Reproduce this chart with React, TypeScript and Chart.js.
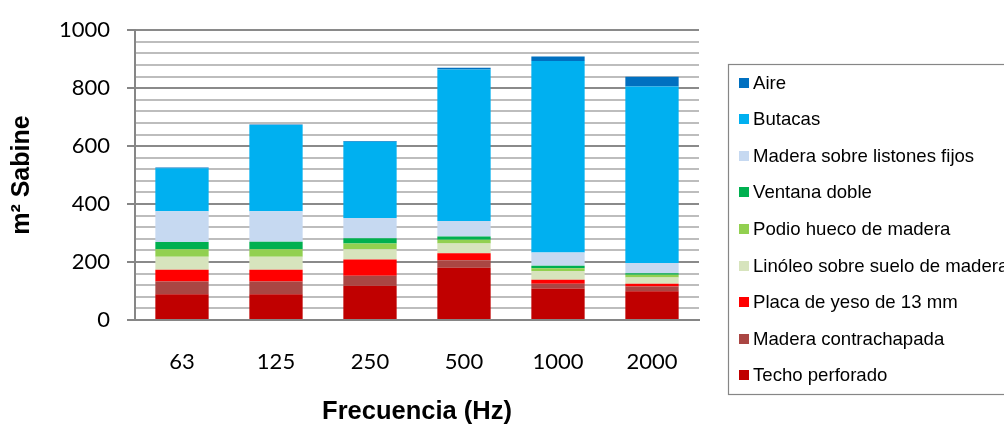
import React, { useEffect, useRef } from "react";
import { Chart, registerables } from "chart.js";

Chart.register(...registerables);

const categories = ["63", "125", "250", "500", "1000", "2000"];

const techoPerforado = [89, 89, 118, 180, 109, 99];
const maderaContrachapada = [44, 44, 35, 26, 16, 17];
const placaYeso = [40, 40, 56, 24, 14, 9];
const linoleo = [45, 45, 35, 34, 30, 22];
const podioHueco = [26, 26, 20, 13, 10, 9];
const ventanaDoble = [25, 26, 18, 11, 8, 5];
const maderaListones = [106, 105, 70, 54, 46, 36];
const butacas = [149, 298, 263, 522, 661, 609];
const aire = [2, 2, 3, 6, 15, 33];

const yTickValuesMajor = [0, 200, 400, 600, 800, 1000];

const series = [
  { label: "Techo perforado", data: techoPerforado, color: "#C00000" },
  { label: "Madera contrachapada", data: maderaContrachapada, color: "#AA4643" },
  { label: "Placa de yeso de 13 mm", data: placaYeso, color: "#FF0000" },
  { label: "Linóleo sobre suelo de madera", data: linoleo, color: "#D7E4BD" },
  { label: "Podio hueco de madera", data: podioHueco, color: "#92D050" },
  { label: "Ventana doble", data: ventanaDoble, color: "#00B050" },
  { label: "Madera sobre listones fijos", data: maderaListones, color: "#C6D9F1" },
  { label: "Butacas", data: butacas, color: "#00B0F0" },
  { label: "Aire", data: aire, color: "#0070C0" },
];

// legend box layout (canvas px)
const LEGEND_LEFT = 728;
const LEGEND_TOP = 64;
const LEGEND_BOTTOM = 394;
const LEGEND_FIRST_Y = 82.5;
const LEGEND_PITCH = 36.6;

export default function App() {
  const ref = useRef<HTMLCanvasElement | null>(null);

  useEffect(() => {
    const canvas = ref.current;
    if (!canvas) return;

    const boxLegend = {
      id: "boxLegend",
      afterDraw(chart: any) {
        const ctx = chart.ctx;
        const ds = chart.data.datasets.slice().reverse();
        ctx.save();
        ctx.strokeStyle = "#868686";
        ctx.lineWidth = 1.2;
        ctx.strokeRect(LEGEND_LEFT + 0.5, LEGEND_TOP + 0.5, chart.width + 20 - LEGEND_LEFT, LEGEND_BOTTOM - LEGEND_TOP);
        ctx.font = "18.6px 'Liberation Sans'";
        ctx.textBaseline = "middle";
        ctx.textAlign = "left";
        ds.forEach((d: any, i: number) => {
          const cy = LEGEND_FIRST_Y + i * LEGEND_PITCH;
          ctx.fillStyle = d.backgroundColor;
          ctx.fillRect(LEGEND_LEFT + 11, Math.round(cy - 5), 10, 10);
          ctx.fillStyle = "#000";
          ctx.fillText(d.label, LEGEND_LEFT + 25, cy + 1);
        });
        ctx.restore();
      },
    };

    const chart = new Chart(canvas, {
      type: "bar",
      data: {
        labels: categories,
        datasets: series.map((s) => ({
          label: s.label,
          data: s.data,
          backgroundColor: s.color,
          borderWidth: 0,
          barPercentage: 0.567,
          categoryPercentage: 1,
        })),
      },
      options: {
        responsive: false,
        animation: false,
        devicePixelRatio: 1,
        layout: { padding: { top: 26, left: 0, right: 305, bottom: 0 } },
        plugins: {
          tooltip: { enabled: false },
          legend: { display: false },
        },
        scales: {
          x: {
            stacked: true,
            grid: { display: false, drawTicks: false },
            border: { display: true, color: "#868686", width: 2 },
            ticks: {
              color: "#000",
              padding: 29,
              font: { family: "Lato", size: 22 },
            },
            title: {
              display: true,
              text: "Frecuencia (Hz)",
              color: "#000",
              font: { family: "'Liberation Sans'", size: 25.5, weight: "bold", lineHeight: 1.1 },
              padding: { top: 0, bottom: 0 },
            },
            afterFit: (s: any) => {
              s.height = 106;
            },
          },
          y: {
            stacked: true,
            min: 0,
            max: 1000,
            grid: {
              drawTicks: true,
              tickLength: 8,
              lineWidth: 2,
              color: (c: any) =>
                yTickValuesMajor.includes(c.tick?.value) ? "#8a8a8a" : "#bdbdbd",
              tickColor: (c: any) =>
                yTickValuesMajor.includes(c.tick?.value) ? "#868686" : "rgba(0,0,0,0)",
            },
            border: { display: true, color: "#868686", width: 2 },
            ticks: {
              stepSize: 40,
              autoSkip: false,
              padding: 17,
              color: "#000",
              font: { family: "Lato", size: 22 },
              callback: (v: any) => (yTickValuesMajor.includes(Number(v)) ? String(v) : ""),
            },
            title: {
              display: true,
              text: "m² Sabine",
              color: "#000",
              font: { family: "'Liberation Sans'", size: 25, weight: "bold" },
              padding: { top: 7, bottom: 0 },
            },
            afterFit: (s: any) => {
              s.width = 135;
            },
          },
        },
      },
      plugins: [boxLegend],
    });

    return () => chart.destroy();
  }, []);

  return (
    <div
      style={{
        position: "absolute",
        left: 0,
        top: 0,
        width: 1004,
        height: 426,
        overflow: "hidden",
        background: "#fff",
      }}
    >
      <canvas ref={ref} width={1004} height={426} style={{ width: 1004, height: 426 }} />
    </div>
  );
}
